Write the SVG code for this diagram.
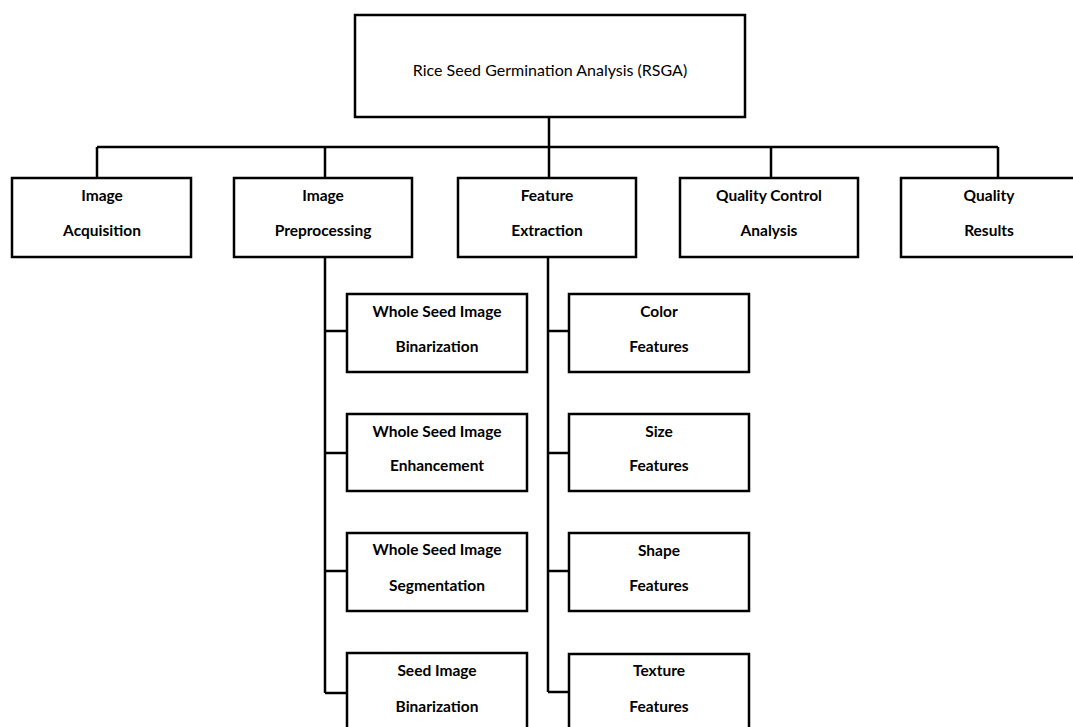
<svg xmlns="http://www.w3.org/2000/svg" width="1073" height="727" viewBox="0 0 1073 727">
  <style>
    .box { fill: #ffffff; stroke: #000000; stroke-width: 2.5; }
    .link { fill: none; stroke: #000000; stroke-width: 2.5; }
    .label { font-family: Lato, "Liberation Sans", sans-serif; font-size: 15.5px; font-weight: 700; fill: #000000; text-anchor: middle; }
    .title { font-family: Lato, "Liberation Sans", sans-serif; font-size: 16px; font-weight: 400; fill: #000000; text-anchor: middle; }
  </style>

  <!-- connectors -->
  <g id="connectors" class="link">
    <path d="M549 117 V178"/>
    <path d="M97 147 H998"/>
    <path d="M97 147 V178"/>
    <path d="M325 147 V178"/>
    <path d="M771 147 V178"/>
    <path d="M998 147 V178"/>
    <!-- preprocessing branch -->
    <path d="M325 257 V693"/>
    <path d="M325 331 H347"/>
    <path d="M325 453 H347"/>
    <path d="M325 571 H347"/>
    <path d="M325 693 H347"/>
    <!-- feature extraction branch -->
    <path d="M548 257 V692"/>
    <path d="M548 331 H569"/>
    <path d="M548 453 H569"/>
    <path d="M548 571 H569"/>
    <path d="M548 692 H569"/>
  </g>

  <g id="rsga">
    <rect class="box" x="355" y="15" width="390" height="102"/>
    <text class="title" x="550" y="76">Rice Seed Germination Analysis (RSGA)</text>
  </g>

  <g id="image-acquisition">
    <rect class="box" x="12" y="178" width="179" height="79"/>
    <text class="label" x="102" y="201">Image</text>
    <text class="label" x="102" y="236">Acquisition</text>
  </g>
  <g id="image-preprocessing">
    <rect class="box" x="234" y="178" width="178" height="79"/>
    <text class="label" x="323" y="201">Image</text>
    <text class="label" x="323" y="236">Preprocessing</text>
  </g>
  <g id="feature-extraction">
    <rect class="box" x="458" y="178" width="178" height="79"/>
    <text class="label" x="547" y="201">Feature</text>
    <text class="label" x="547" y="236">Extraction</text>
  </g>
  <g id="quality-control-analysis">
    <rect class="box" x="680" y="178" width="178" height="79"/>
    <text class="label" x="769" y="201">Quality Control</text>
    <text class="label" x="769" y="236">Analysis</text>
  </g>
  <g id="quality-results">
    <rect class="box" x="901" y="178" width="180" height="79"/>
    <text class="label" x="989" y="201">Quality</text>
    <text class="label" x="989" y="236">Results</text>
  </g>

  <!-- preprocessing steps -->
  <g id="whole-seed-binarization">
    <rect class="box" x="347" y="294" width="180" height="78"/>
    <text class="label" x="437" y="317">Whole Seed Image</text>
    <text class="label" x="437" y="352">Binarization</text>
  </g>
  <g id="whole-seed-enhancement">
    <rect class="box" x="347" y="414" width="180" height="77"/>
    <text class="label" x="437" y="437">Whole Seed Image</text>
    <text class="label" x="437" y="471">Enhancement</text>
  </g>
  <g id="whole-seed-segmentation">
    <rect class="box" x="347" y="533" width="180" height="78"/>
    <text class="label" x="437" y="555">Whole Seed Image</text>
    <text class="label" x="437" y="591">Segmentation</text>
  </g>
  <g id="seed-binarization">
    <rect class="box" x="347" y="653" width="180" height="90"/>
    <text class="label" x="437" y="676">Seed Image</text>
    <text class="label" x="437" y="712">Binarization</text>
  </g>

  <!-- extracted features -->
  <g id="color-features">
    <rect class="box" x="569" y="294" width="180" height="78"/>
    <text class="label" x="659" y="317">Color</text>
    <text class="label" x="659" y="352">Features</text>
  </g>
  <g id="size-features">
    <rect class="box" x="569" y="414" width="180" height="77"/>
    <text class="label" x="659" y="437">Size</text>
    <text class="label" x="659" y="471">Features</text>
  </g>
  <g id="shape-features">
    <rect class="box" x="569" y="533" width="180" height="78"/>
    <text class="label" x="659" y="556">Shape</text>
    <text class="label" x="659" y="591">Features</text>
  </g>
  <g id="texture-features">
    <rect class="box" x="569" y="654" width="180" height="90"/>
    <text class="label" x="659" y="676">Texture</text>
    <text class="label" x="659" y="712">Features</text>
  </g>
</svg>
